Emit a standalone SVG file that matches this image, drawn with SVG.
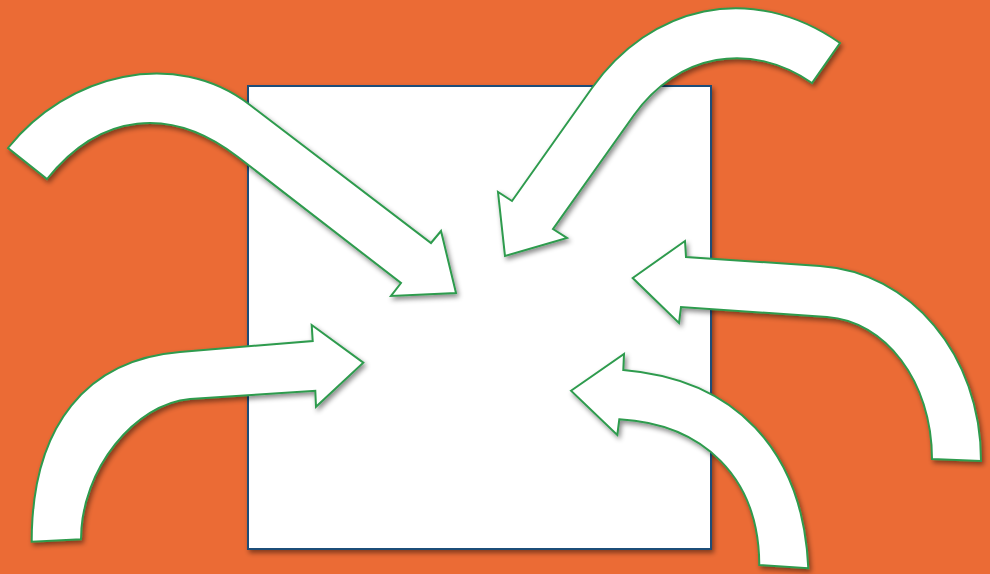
<svg xmlns="http://www.w3.org/2000/svg" width="990" height="574" viewBox="0 0 990 574">
<defs>
<filter id="sh" x="-10%" y="-10%" width="130%" height="130%">
<feDropShadow dx="2" dy="3" stdDeviation="2.5" flood-color="#000" flood-opacity="0.45"/>
</filter>
<style>
.arrow{fill:#ffffff;stroke:#2E9B4E;stroke-width:2;stroke-linejoin:miter;filter:url(#sh)}
.box{fill:#ffffff;stroke:#1F4E79;stroke-width:2;filter:url(#sh)}
</style>
</defs>
<rect x="0" y="0" width="990" height="574" fill="#EB6B35"/>
<g id="square">
<rect class="box" x="248" y="86" width="463" height="463"/>
</g>
<g id="connectors">
<path id="arrow1" class="arrow" d="M 8,148 C 67,74 175,47 250,105 L 431,243 L 441,231 L 456,293 L 391,296 L 401,283 L 238,157 C 171,105 99.7,112.7 47,179 Z"/>
<path id="arrow2" class="arrow" d="M 840,43 C 749.8,-19.7 650,6.5 592,88 L 512,201 L 498,192 L 505,256 L 567,238 L 553,229 L 634,115 C 677.5,53.9 750.5,40.25 812,83 Z"/>
<path id="arrow3" class="arrow" d="M 632.7,278 L 685,241 L 686,257 L 820,266 C 910,272 981,354 981,461 L 932,459 C 932,381 885,321 827,317 L 681,307 L 679,323 Z"/>
<path id="arrow4" class="arrow" d="M 31.7,541.7 C 31.7,424 88,359.5 180,352 L 312.7,341 L 311.7,325 L 363.3,362.7 L 316,406.7 L 315.3,390.7 L 190,399 C 135.5,403.5 81,469 81,539.3 Z"/>
<path id="arrow5" class="arrow" d="M 571,390.7 L 624,354 L 623.3,370 C 734,379 803,449 808.3,568.3 L 759.3,565 C 759,477 703,424 619.3,419.3 L 617.3,435 Z"/>
</g>
</svg>
